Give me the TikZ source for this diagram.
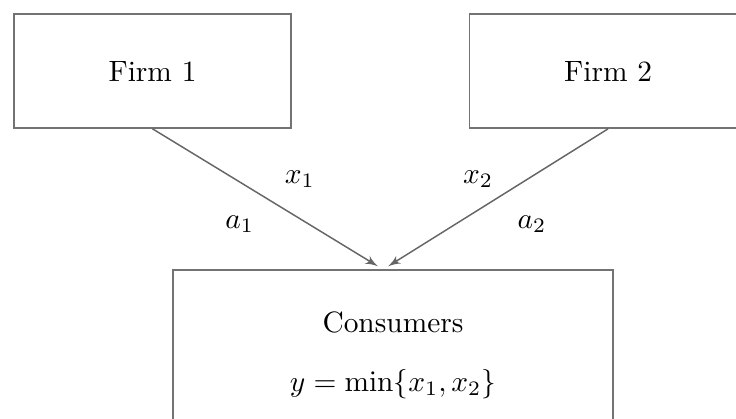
\documentclass[tikz,border=0pt]{standalone}
\usepackage{amsmath}
\usepackage{amssymb}
\usetikzlibrary{shapes,arrows}

\begin{document}
\begin{tikzpicture}[x=0.34pt, y=-0.34pt, node distance=154.9pt]
        % Styles
        \tikzstyle{firm} = [rectangle, draw=black!55, line width=0.5pt, minimum width=94.2pt, minimum height=38.8pt]
        \tikzstyle{market} = [rectangle, draw=black!55, line width=0.5pt, minimum width=149.6pt, minimum height=57.8pt, align=center]
        \tikzstyle{line} = [draw=black!60, line width=0.5pt, -latex']

        \useasboundingbox (0,0) rectangle (736,418);

        % Nodes
        \node [firm] (firm1) at (152.5,71) {Firm 1};
        \node [firm, right of=firm1] (firm2) {Firm 2};
        \node [market] (cons) at (393,355) {Consumers\\[8pt] $y=\min\{x_1,x_2\}$};

        % Edges
        \path [line] (firm1.south) -- node[pos=0.575, xshift=6pt, yshift=9.7pt] {$x_1$}
                node[pos=0.47, xshift=-6.4pt, yshift=-10.5pt] {$a_1$} ([xshift=-5.1pt, yshift=1pt]cons.north);
        \path [line] (firm2.south) -- node[pos=0.575, xshift=-1.2pt, yshift=9.7pt] {$x_2$}
                node[pos=0.47, xshift=9.3pt, yshift=-10.5pt] {$a_2$} ([xshift=-1.7pt, yshift=1pt]cons.north);
    \end{tikzpicture}
\end{document}
